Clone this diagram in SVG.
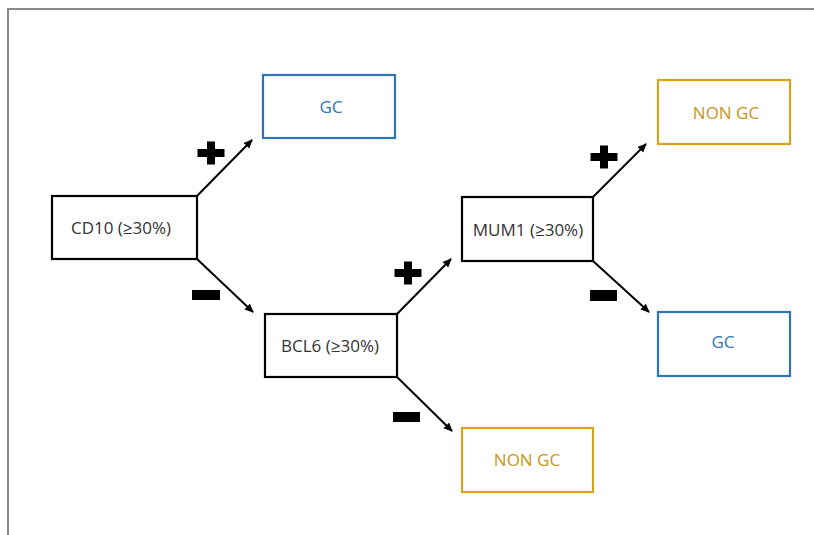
<svg xmlns="http://www.w3.org/2000/svg" width="814" height="535" viewBox="0 0 814 535">
<defs>
<marker id="ah" markerWidth="10" markerHeight="10" refX="8" refY="4" orient="auto" markerUnits="userSpaceOnUse">
<path d="M0,0 L9,4 L0,8 Z" fill="#000"/>
</marker>
<path id="plus" d="M-4,-11.5 H4 V-4 H13.5 V4 H4 V11.5 H-4 V4 H-13.5 V-4 H-4 Z"/>
</defs>
<style>
.bg{fill:#fff}
.frame{fill:none;stroke:#8a8a8a;stroke-width:2}
.box{fill:#fff;stroke:#000;stroke-width:2.2}
.gc{fill:#fff;stroke:#2e75b6;stroke-width:2.2}
.ngc{fill:#fff;stroke:#d9a21b;stroke-width:2.2}
text{font-family:"Open Sans","Liberation Sans",sans-serif;font-size:17px;text-anchor:middle;dominant-baseline:central}
.tb{fill:#333}
.tgc{fill:#2e75b6}
.tngc{fill:#c9961a}
.conn line{stroke:#000;stroke-width:2;marker-end:url(#ah)}
.sign{fill:#000}
</style>
<rect class="bg" x="0" y="0" width="814" height="535"/>
<path class="frame" d="M8,536 V9 H815"/>
<g id="cd10"><rect class="box" x="52" y="196" width="145" height="63"/><text class="tb" x="121" y="227">CD10 (≥30%)</text></g>
<g id="gc1"><rect class="gc" x="263" y="75" width="132" height="63"/><text class="tgc" x="331" y="106">GC</text></g>
<g id="bcl6"><rect class="box" x="265" y="314" width="132" height="63"/><text class="tb" x="330" y="345">BCL6 (≥30%)</text></g>
<g id="mum1"><rect class="box" x="462" y="197" width="131" height="64"/><text class="tb" x="528" y="229">MUM1 (≥30%)</text></g>
<g id="ngc1"><rect class="ngc" x="658" y="80" width="132" height="64"/><text class="tngc" x="726" y="112">NON GC</text></g>
<g id="gc2"><rect class="gc" x="658" y="312" width="132" height="64"/><text class="tgc" x="723" y="341">GC</text></g>
<g id="ngc2"><rect class="ngc" x="462" y="428" width="131" height="64"/><text class="tngc" x="527" y="459">NON GC</text></g>
<g class="conn" id="connectors">
<line x1="197" y1="196" x2="252" y2="140"/>
<line x1="197" y1="259" x2="253" y2="312"/>
<line x1="397" y1="314" x2="451" y2="259"/>
<line x1="397" y1="377" x2="452" y2="431"/>
<line x1="593" y1="197" x2="646" y2="144"/>
<line x1="593" y1="261" x2="649" y2="312"/>
</g>
<g id="signs" class="sign">
<use href="#plus" x="211" y="153"/>
<use href="#plus" x="408" y="273"/>
<use href="#plus" x="604" y="157"/>
<rect x="192" y="290" width="28" height="10"/>
<rect x="393" y="412" width="27" height="10"/>
<rect x="590" y="290" width="27" height="11"/>
</g>
</svg>
